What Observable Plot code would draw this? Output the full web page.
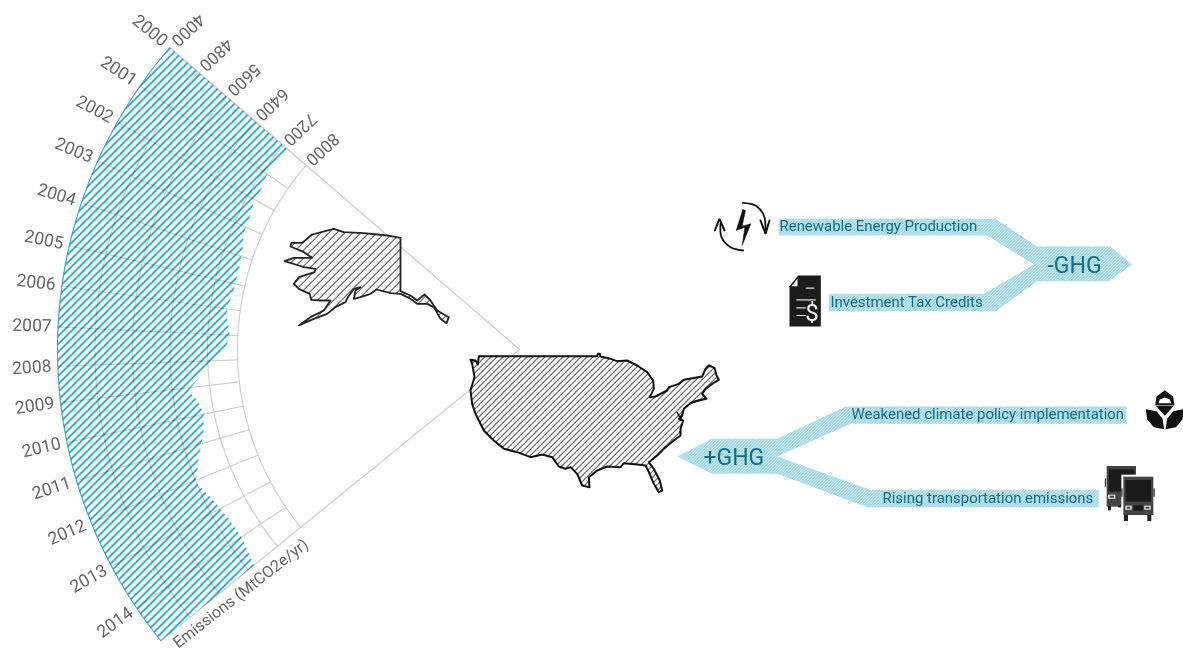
<!DOCTYPE html>
<html>
<head>
<meta charset="utf-8">
<style>html,body{margin:0;background:#fff}svg{display:block}</style>
<script src="https://cdn.jsdelivr.net/npm/d3@7"></script>
<script src="https://cdn.jsdelivr.net/npm/@observablehq/plot@0.6"></script>
</head>
<body>
<div id="chart"></div>
<script>
// ---------- data ----------
const years = [2000,2001,2002,2003,2004,2005,2006,2007,2008,2009,2010,2011,2012,2013,2014];
const valueTicks = [4000,4800,5600,6400,7200,8000];
const emissionsTime = [2000,2000.98,2001.62,2002.13,2002.74,2003.23,2003.79,2004.15,2004.58,2004.95,2005.39,2005.94,2006.25,2006.63,2007,2007.53,2008.27,2009.1,2009.48,2009.96,2010.57,2010.8,2011.11,2011.38,2011.75,2012.05,2012.33,2012.72,2013.32,2013.95,2014.49,2015];
const emissionsValue = [7333,7323,7416,7430,7517,7536,7675,7710,7750,7739,7723,7653,7653,7733,7779,7680,7190,6741,6901,6978,6897,6837,6737,6630,6517,6385,6475,6577,6669,6703,6641,6556];
const lastTime = 2015;
const axisTitle = "Emissions (MtCO2e/yr)";
const causeLabels = ["Renewable Energy Production","Investment Tax Credits","Weakened climate policy implementation","Rising transportation emissions"];
const effectLabels = ["-GHG","+GHG"];

// ---------- outlines, in 3x local units ----------
const usOutline = [[30,58],[45,60],[52,72],[55,47],[180,47],[300,47],[410,47],[412,40],[418,40],[420,48],[450,55],[470,62],[500,60],[530,75],[560,95],[578,120],[580,145],[568,170],[585,168],[620,150],[625,140],[655,130],[670,118],[725,108],[735,85],[745,75],[762,82],[768,105],[775,118],[755,130],[735,145],[725,160],[738,175],[705,182],[690,188],[670,205],[665,225],[655,235],[668,240],[660,265],[660,285],[640,300],[610,325],[590,345],[565,365],[580,385],[598,420],[605,450],[595,455],[580,430],[565,395],[555,375],[530,372],[490,368],[480,380],[440,378],[410,390],[385,410],[387,440],[365,435],[350,400],[330,380],[315,385],[295,378],[275,350],[245,342],[210,350],[170,335],[130,325],[100,300],[70,270],[45,220],[35,190],[30,150],[42,110],[35,70]];
const usBay = [[650,215],[658,232],[665,222],[660,240]];
const usSound = [[690,188],[708,182],[720,178]];
const alaskaOutline = [[390,82],[390,242],[420,255],[440,270],[462,252],[480,270],[500,300],[535,320],[528,338],[510,325],[490,290],[470,280],[440,280],[415,262],[390,250],[360,248],[318,237],[300,250],[270,260],[250,265],[255,240],[270,230],[250,235],[232,260],[225,275],[195,290],[170,310],[130,325],[85,345],[120,320],[160,300],[180,270],[150,270],[122,268],[118,250],[85,235],[70,220],[85,200],[132,185],[135,175],[100,170],[85,165],[42,152],[70,142],[125,142],[100,125],[60,108],[62,97],[95,97],[125,72],[190,55],[220,65],[280,68],[350,75]];
const arrowMinus = [[235,85],[885,85],[1010,168],[1230,168],[1295,222],[1225,272],[1010,272],[885,362],[385,362],[385,310],[850,310],[1000,222],[860,135],[235,135]];
const arrowPlus = [[1368,78],[525,78],[320,175],[125,175],[20,228],[125,280],[320,280],[590,380],[1285,380],[1285,328],[600,328],[320,228],[540,130],[1368,130]];
const bolt = [[112,42],[92,105],[118,95],[110,150],[136,85],[110,92],[120,45]];
const arcOne = [[112,22],[150,30],[175,60],[180,105]];
const headOne = [[165,75],[180,115],[192,75]];
const arcTwo = [[113,165],[75,155],[48,125],[45,85]];
const headTwo = [[28,105],[42,70],[57,105]];
const docBody = [[252,272],[278,240],[346,240],[346,393],[252,393]];
const docFold = [[258,272],[276,250],[276,272]];
const docLines = [[[302,278],[325,278]],[[274,313],[330,313]],[[274,337],[300,337]],[[274,360],[300,360]]];
const epaDome = [[164,74],[168,48],[193,29],[218,48],[222,74]];
const epaGap = [[174,68],[178,57],[193,51],[208,57],[212,68]];
const epaLeafL = [[136,86],[168,92],[186,115],[191,146],[160,140],[140,116]];
const epaLeafR = [[250,86],[218,92],[200,115],[195,146],[226,140],[246,116]];
const epaBowl = [[166,76],[220,76],[193,106]];
const busBack = [[20,258,108,380,"#444"],[26,268,102,335,"#1a1a1a"],[14,295,19,320,"#555"],[24,378,33,391,"#222"],[54,375,64,382,"#222"],[24,344,46,356,"#eee"],[29,347,42,353,"#444"]];
const busFront = [[64,284,166,408,"#fff"],[70,290,160,405,"#444"],[77,300,153,365,"#1a1a1a"],[63,325,68,350,"#555"],[160,325,165,350,"#555"],[72,405,84,423,"#222"],[142,405,154,423,"#222"],[76,377,95,389,"#eee"],[80,380,91,386,"#444"],[133,377,152,389,"#eee"],[137,380,148,386,"#444"],[100,376,128,392,"#1a1a1a"]];

// ---------- polar mapping: the year spokes are not evenly spaced in the picture ----------
const centre = [519, 349];
const spokeAngles = [139.2,145.2,150.5,155.9,161.5,167,172.1,177.2,182.1,186.6,191.6,196.5,202,208,214,219.1];
const angleOf = d3.scaleLinear([...years,lastTime],spokeAngles);
const radiusOf = d3.scaleLinear([4000,7200,8000],[462,312,282]);
const polarR = (yr,r)=>{const a=angleOf(yr)*Math.PI/180;return {x:centre[0]+r*Math.cos(a),y:centre[1]-r*Math.sin(a)};};
const polar = (yr,v)=>polarR(yr,radiusOf(v));

const outerSpan = d3.range(2000,lastTime,0.25).concat(lastTime);
const hatchOutline = [
  ...outerSpan.map(t=>polar(t,4000)),
  ...emissionsTime.map((t,i)=>polar(t,emissionsValue[i])).reverse()
];
const arcs = valueTicks.flatMap(v=>outerSpan.map(t=>({...polar(t,v),v})));
const spokes = years.flatMap(yr=>[{...polar(yr,4000),yr},{...polar(yr,8000),yr}]);
const edges = [2000,lastTime].flatMap(yr=>[{...polar(yr,4000),yr},{...polarR(yr,0),yr}]);

// ---------- helpers ----------
const local = (pts,ox,oy)=>pts.map(([a,b])=>({x:ox+a/3,y:oy+b/3}));
const closed = p=>[...p,p[0]];
const shape = (pts,opts)=>Plot.line(closed(pts),{x:"x",y:"y",...opts});
const open = (pts,opts)=>Plot.line(pts,{x:"x",y:"y",...opts});
const boxes = (rows,ox,oy)=>Plot.rect(rows.map(([a,b,c,d,f])=>({x1:ox+a/3,y1:oy+b/3,x2:ox+c/3,y2:oy+d/3,f})),{x1:"x1",x2:"x2",y1:"y1",y2:"y2",fill:d=>d.f});

const defs = ()=>{
  const make=(id,size,bar,color,bg,rot)=>{
    let s=`<pattern id="${id}" patternUnits="userSpaceOnUse" width="${size}" height="${size}" patternTransform="rotate(${rot})">`;
    if(bg) s+=`<rect width="${size}" height="${size}" fill="${bg}"/>`;
    s+=`<rect width="${size}" height="${bar}" fill="${color}"/></pattern>`;
    return s;
  };
  const g=document.createElementNS("http://www.w3.org/2000/svg","defs");
  g.innerHTML=make(
    "hatchBlue",5.657,1.7,"#1fa6cd","#fff",-45)
    +make("hatchAk",5.657,1.1,"#555","#fff",-45)
    +make("hatchUs",4.243,1.1,"#555","#fff",-45)
    +make("hatchArrow",2.121,1.1,"#8fd0e3","#d6eef5",-45);
  return g;
};

const font = "Roboto, 'Liberation Sans', sans-serif";
const W=1183,H=658;
const ink="#0f6f8a";

const chart = Plot.plot({
  width:W,height:H,margin:0,
  x:{domain:[0,W],range:[0,W],axis:null},
  y:{domain:[0,H],range:[0,H],axis:null},
  style:{background:"#fff",fontFamily:font},
  marks:[
    defs,
    // grid
    Plot.line(arcs,{x:"x",y:"y",z:"v",stroke:"#d0d0d0",strokeWidth:1.2}),
    Plot.line(spokes,{x:"x",y:"y",z:"yr",stroke:"#d0d0d0",strokeWidth:1.2}),
    Plot.line(edges,{x:"x",y:"y",z:"yr",stroke:"#ccc",strokeWidth:1.2}),
    // emissions wedge
    shape(hatchOutline,{fill:"url(#hatchBlue)",stroke:"none",mixBlendMode:"multiply"}),
    open(outerSpan.map(t=>polar(t,4000)),{stroke:"#1fa6cd",strokeWidth:0.9}),
    // axis labels
    Plot.text(years,{x:d=>polarR(d,488).x,y:d=>polarR(d,488).y,text:d=>String(d),rotate:d=>180-angleOf(d)-1.5,textAnchor:"middle",lineAnchor:"middle",fontSize:17.5,fill:"#666"}),
    Plot.text(valueTicks,{x:d=>polar(1999.87,d).x,y:d=>polar(1999.87,d).y,text:d=>String(d),rotate:137,textAnchor:"end",lineAnchor:"middle",fontSize:17,fill:"#666"}),
    Plot.text([axisTitle],{x:()=>polar(2015.41,5950).x,y:()=>polar(2015.41,5950).y,text:d=>d,rotate:-38,textAnchor:"middle",lineAnchor:"middle",fontSize:16,fill:"#666"}),
    // maps
    shape(local(alaskaOutline,270,210),{fill:"url(#hatchAk)",stroke:"#222",strokeWidth:1.8,strokeLinejoin:"round"}),
    shape(local(usOutline,460,340),{fill:"url(#hatchUs)",stroke:"#111",strokeWidth:2,strokeLinejoin:"round"}),
    open(local(usBay,460,340),{stroke:"#111",strokeWidth:1.4}),
    open(local(usSound,460,340),{stroke:"#111",strokeWidth:2}),
    // arrows
    shape(local(arrowMinus,700,190),{fill:"url(#hatchArrow)",stroke:"none"}),
    shape(local(arrowPlus,670,380),{fill:"url(#hatchArrow)",stroke:"none"}),
    Plot.text(causeLabels,{x:[779,830,851,882],y:[226,302,414,498],text:d=>d,textAnchor:"start",lineAnchor:"middle",fontSize:14.95,fill:ink}),
    Plot.text(effectLabels,{x:[1047,703],y:[265,457],text:d=>d,textAnchor:"start",lineAnchor:"middle",fontSize:23,fill:ink}),
    // energy icon
    shape(local(bolt,705,195),{fill:"#111",stroke:"#111",strokeWidth:0.5}),
    open(local(arcOne,705,195),{stroke:"#111",strokeWidth:1.8,curve:"catmull-rom"}),
    open(local(headOne,705,195),{stroke:"#111",strokeWidth:2,strokeLinejoin:"miter"}),
    open(local(arcTwo,705,195),{stroke:"#111",strokeWidth:1.8,curve:"catmull-rom"}),
    open(local(headTwo,705,195),{stroke:"#111",strokeWidth:2,strokeLinejoin:"miter"}),
    // document icon
    shape(local(docBody,705,195),{fill:"#1c1c1c",stroke:"none"}),
    shape(local(docFold,705,195),{fill:"#fff",stroke:"none"}),
    ...docLines.map(l=>open(local(l,705,195),{stroke:"#ddd",strokeWidth:1.2})),
    Plot.text(["$"],{x:[811.5],y:[313],text:d=>d,fontSize:24,fill:"#eee",lineAnchor:"middle"}),
    // EPA icon
    shape(local(epaDome,1100,380),{fill:"#111",stroke:"none"}),
    shape(local(epaGap,1100,380),{fill:"#fff",stroke:"none"}),
    shape(local(epaBowl,1100,380),{fill:"#111",stroke:"none"}),
    shape(local(epaLeafL,1100,380),{fill:"#111",stroke:"none"}),
    shape(local(epaLeafR,1100,380),{fill:"#111",stroke:"none"}),
    // bus icon
    boxes(busBack,1100,380),
    boxes(busFront,1100,380)
  ]
});
document.getElementById("chart").appendChild(chart);
</script>
</body>
</html>
